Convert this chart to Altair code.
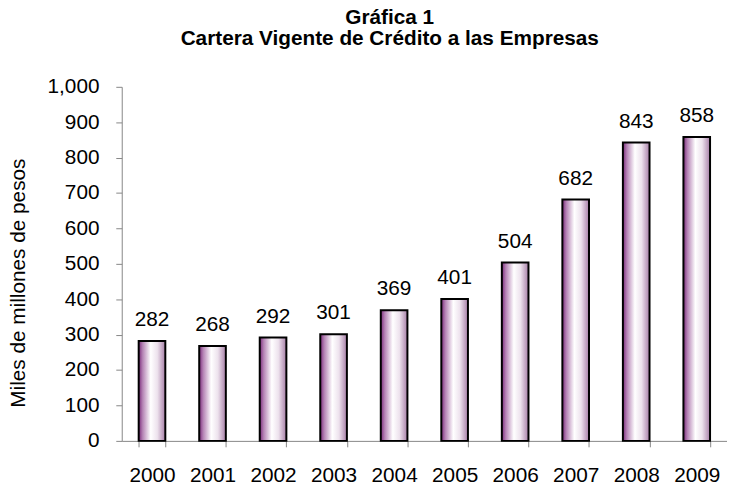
import altair as alt
import pandas as pd

years = ["2000", "2001", "2002", "2003", "2004", "2005", "2006", "2007", "2008", "2009"]
values = [282, 268, 292, 301, 369, 401, 504, 682, 843, 858]
y_ticks = [0, 100, 200, 300, 400, 500, 600, 700, 800, 900, 1000]

df = pd.DataFrame({"year": years, "value": values})

FONT = "Liberation Sans"
grad = alt.LinearGradient(
    gradient="linear",
    x1=0, x2=1, y1=0, y2=0,
    stops=[
        alt.GradientStop(color="#7a2a7a", offset=0),
        alt.GradientStop(color="#b583b5", offset=0.15),
        alt.GradientStop(color="#ffffff", offset=0.45),
        alt.GradientStop(color="#ede2ed", offset=0.7),
        alt.GradientStop(color="#a77ea7", offset=1),
    ],
)

x = alt.X(
    "year:N",
    sort=years,
    scale=alt.Scale(paddingInner=0.56, paddingOuter=0.28),
    axis=alt.Axis(
        title=None, labelAngle=0, tickBand="extent", labelFont=FONT,
        labelFontSize=21, labelColor="#000000", labelPadding=18,
        labelOverlap=False, domainColor="#868686", tickColor="#868686",
        tickSize=6,
    ),
)
y = alt.Y(
    "value:Q",
    scale=alt.Scale(domain=[0, 1000], nice=False),
    axis=alt.Axis(
        title="Miles de millones de pesos", values=y_ticks, tickCount=11,
        format=",.0f", grid=False, labelFont=FONT, labelFontSize=21,
        labelColor="#000000", labelPadding=17, labelOverlap=False,
        labelFlush=False, domainColor="#868686",
        tickColor="#868686", tickSize=6, titleFont=FONT, titleFontSize=21,
        titleFontWeight="normal", titleColor="#000000",
        titleX=-104, titleY=198, titleAngle=270, titleAlign="center",
        titleBaseline="middle",
    ),
)

base = alt.Chart(df).encode(x=x, y=y)
bars = base.mark_bar(fill=grad, stroke="#000000", strokeWidth=2)
labels = base.mark_text(
    font=FONT, fontSize=21, color="#000000", baseline="alphabetic", dy=-15
).encode(text="value:Q")

chart = alt.layer(bars, labels).properties(
    width=612,
    height=358,
    padding={"left": 115, "top": 77, "right": 0, "bottom": 50},
    autosize=alt.AutoSizeParams(type="none"),
    title=alt.TitleParams(
        text=["Gráfica 1", "Cartera Vigente de Crédito a las Empresas"],
        font=FONT, fontSize=21, fontWeight="bold", color="#000000",
        anchor="middle", dx=-35, offset=27, lineHeight=22,
    ),
).configure_view(stroke=None)

chart.save("out.html", embed_options={"renderer": "svg", "actions": False})
